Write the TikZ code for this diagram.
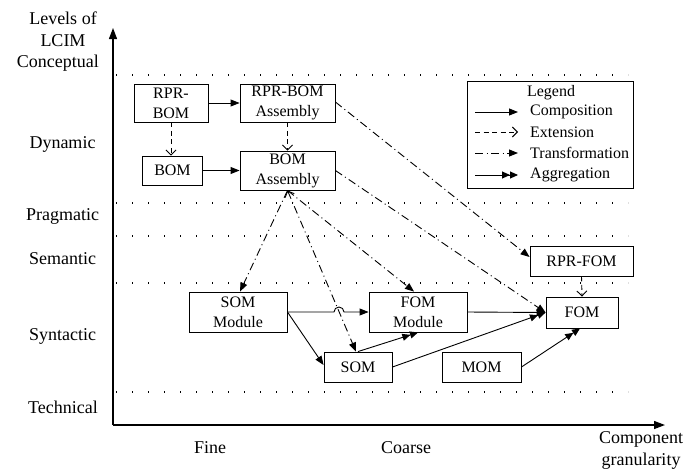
\documentclass[tikz,border=0pt]{standalone}
\usepackage{fontspec}
\setmainfont{Liberation Serif}
\usetikzlibrary{arrows.meta,positioning}
\tikzset{
  box/.style={draw, line width=0.9pt, rectangle, inner sep=0pt, align=center, font=\fontsize{16}{20}\selectfont},
  lvl/.style={font=\fontsize{18}{22}\selectfont, align=center, inner sep=0pt},
  lgtext/.style={font=\fontsize{16}{20}\selectfont, inner sep=0pt, anchor=west},
  comp/.style={line width=0.9pt, -{Triangle[length=9pt,width=7pt]}},
  ext/.style={line width=0.9pt, dash pattern=on 5pt off 3.5pt, -{Straight Barb[length=5pt,width=10pt]}},
  trans/.style={line width=0.9pt, dash pattern=on 8pt off 3.5pt on 1pt off 3.5pt, -{Triangle[length=9pt,width=7pt]}},
  agg/.style={line width=0.9pt, -{Triangle[length=8pt,width=7pt]Triangle[length=8pt,width=7pt]}},
  grid/.style={line width=1.1pt, dash pattern=on 1.1pt off 14.9pt},
  axis/.style={line width=1.3pt, -{Triangle[length=11pt,width=8pt]}}
}
\begin{document}
\begin{tikzpicture}[x=1pt,y=-1pt]
\useasboundingbox (0,0) rectangle (688,472);
% axes
\coordinate (O) at (113,425);
\coordinate (Ytip) at (113,28);
\coordinate (Xtip) at (665,425);
\draw[axis] (O) -- (Ytip);
\draw[axis] (O) -- (Xtip);
% dotted level separators
\foreach \yy/\nm in {75/d1,203/d2,236/d3,283/d4,392/d5}{
  \coordinate (\nm a) at (116,\yy);
  \coordinate (\nm b) at (628,\yy);
  \draw[grid] (\nm a) -- (\nm b);
}
% level labels
\node[lvl] (lev) at (63,29) {Levels of\\LCIM};
\node[lvl, anchor=east] (conc) at (99,63) {Conceptual};
\node[lvl] (dyn) at (62.5,144) {Dynamic};
\node[lvl] (prag) at (62.5,216) {Pragmatic};
\node[lvl] (sem) at (62.5,259) {Semantic};
\node[lvl] (syn) at (62.5,336) {Syntactic};
\node[lvl] (tech) at (63,407) {Technical};
% granularity labels
\node[lvl] (fine) at (210,448) {Fine};
\node[lvl] (coarse) at (406,448) {Coarse};
\node[lvl] (compg) at (641,450) {Component\\granularity};
% boxes
\node[box, minimum width=74pt, minimum height=38pt] (rprbom) at (171,103) {RPR-\\BOM};
\node[box, minimum width=95pt, minimum height=38pt] (rprbomA) at (287.5,103) {RPR-BOM\\Assembly};
\node[box, minimum width=60pt, minimum height=29pt] (bom) at (172.5,170.5) {BOM};
\node[box, minimum width=95pt, minimum height=39pt] (bomA) at (287.5,170.5) {BOM\\Assembly};
\node[box, minimum width=103pt, minimum height=30pt] (rprfom) at (581.5,261) {RPR-FOM};
\node[box, minimum width=98pt, minimum height=40pt] (somM) at (238,312) {SOM\\Module};
\node[box, minimum width=98pt, minimum height=40pt] (fomM) at (418,312) {FOM\\Module};
\node[box, minimum width=72pt, minimum height=31pt] (fom) at (582,312.5) {FOM};
\node[box, minimum width=68pt, minimum height=30pt] (som) at (358,367) {SOM};
\node[box, minimum width=79pt, minimum height=30pt] (mom) at (481.5,367) {MOM};
% legend
\node[box, minimum width=166pt, minimum height=107pt] (legend) at (550,134.5) {};
\node[lgtext, anchor=center] (lgt) at (551,93) {Legend};
\foreach \yy/\nm/\st/\tx in {112/la/comp/Composition,132/lb/ext/Extension,153/lc/trans/Transformation,175/ld/agg/Aggregation}{
  \coordinate (\nm1) at (475,\yy);
  \coordinate (\nm2) at (518,\yy);
  \draw[\st] (\nm1) -- (\nm2);
  \node[lgtext] (\nm t) at (530,\yy) {\tx};
}
% conceptual/dynamic connectors
\draw[comp] (rprbom.east) -- (rprbomA.west);
\draw[comp] (bom.east) -- (bom.east -| bomA.west);
\draw[ext] (rprbom.south) -- (rprbom.south |- bom.north);
\draw[ext] (rprbomA.south) -- (bomA.north);
% transformations
\draw[trans] ([yshift=1pt]rprbomA.east) -- ([yshift=4pt]rprfom.west);
\draw[trans] (bomA.east) -- (fom.west);
\draw[trans] (bomA.south) -- ([xshift=2pt]somM.north);
\draw[trans, {Straight Barb[length=5pt,width=10pt]}-{Triangle[length=9pt,width=7pt]}] (bomA.south) -- ([xshift=-2pt]som.north);
\draw[trans] (bomA.south) -- ([xshift=-4pt]fomM.north);
% syntactic connectors
\coordinate (hop) at (334,312);
\draw[comp] (somM.east) -- (hop) arc[start angle=180, end angle=0, radius=5pt] -- (fomM.west);
\draw[comp] (somM.east) -- ([yshift=2pt]som.west);
\draw[agg] (som.north) -- (fomM.south);
\draw[agg] (som.east) -- (fom.west);
\draw[comp] (fomM.east) -- (fom.west);
\draw[agg] (mom.east) -- ([xshift=-2pt]fom.south);
\draw[ext] (rprfom.south) -- (fom.north);
\end{tikzpicture}
\end{document}
